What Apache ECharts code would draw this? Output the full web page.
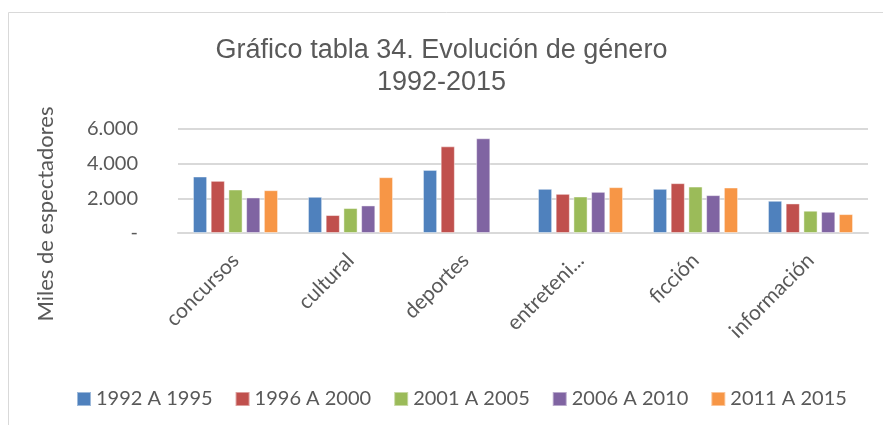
<!DOCTYPE html>
<html>
<head>
<meta charset="utf-8">
<script src="https://cdn.jsdelivr.net/npm/echarts@6/dist/echarts.min.js"></script>
<style>
  html, body { margin: 0; padding: 0; background: #fff; }
  #chart { width: 883px; height: 425px; }
</style>
</head>
<body>
<div id="chart"></div>
<script>
// categorías y series (miles de espectadores)
const generos = ['concursos', 'cultural', 'deportes', 'entretenimiento', 'ficción', 'información'];
const periodos = ['1992 A 1995', '1996 A 2000', '2001 A 2005', '2006 A 2010', '2011 A 2015'];
const valores1992 = [3260, 2090, 3640, 2550, 2550, 1860];
const valores1996 = [3010, 1035, 5000, 2260, 2875, 1705];
const valores2001 = [2510, 1440, null, 2105, 2680, 1285];
const valores2006 = [2050, 1590, 5465, 2375, 2185, 1225];
const valores2011 = [2470, 3220, null, 2645, 2625, 1090];
const colores = ['#4F81BD', '#C0504D', '#9BBB59', '#8064A2', '#F79646'];

const seriesData = [valores1992, valores1996, valores2001, valores2006, valores2011];
const textColor = '#595959';
const font = 'Lato';

const chart = echarts.init(document.getElementById('chart'));

const option = {
  animation: false,
  title: {
    text: 'Gráfico tabla 34. Evolución de género\n1992-2015',
    left: 'center',
    top: 30,
    textStyle: {
      fontFamily: 'Liberation Sans',
      fontWeight: 'normal',
      fontSize: 27,
      lineHeight: 32,
      color: textColor,
    },
  },
  legend: {
    left: 71,
    top: 384,
    itemWidth: 14,
    itemHeight: 14,
    itemGap: 22,
    icon: 'rect',
    data: periodos,
    textStyle: { fontFamily: font, fontSize: 20, color: textColor },
  },
  grid: {
    left: 178,
    right: 15,
    top: 129,
    bottom: 192,
  },
  xAxis: {
    type: 'category',
    data: generos,
    axisTick: { show: false },
    axisLine: { lineStyle: { color: '#d9d9d9', width: 2 } },
    axisLabel: {
      interval: 0,
      rotate: 45,
      margin: 24,
      fontFamily: font,
      fontSize: 21,
      color: textColor,
      formatter: v => (v.length > 12 ? v.slice(0, 9) + '...' : v),
    },
  },
  yAxis: {
    type: 'value',
    min: 0,
    max: 6000,
    interval: 2000,
    axisLine: { show: false },
    axisTick: { show: false },
    splitLine: { lineStyle: { color: '#d9d9d9', width: 2 } },
    axisLabel: {
      margin: 40,
      fontFamily: font,
      fontSize: 20,
      color: textColor,
      formatter: v => (v === 0 ? '-' : String(v / 1000) + '.000'),
    },
  },
  graphic: [
    {
      type: 'rect',
      shape: { x: 8.5, y: 12.5, width: 900, height: 440 },
      style: { fill: 'none', stroke: '#d9d9d9', lineWidth: 1 },
      silent: true,
    },
    {
      type: 'text',
      x: 46,
      y: 214,
      rotation: Math.PI / 2,
      style: {
        text: 'Miles de espectadores',
        fontFamily: font,
        fontSize: 22,
        fill: textColor,
        align: 'center',
        verticalAlign: 'middle',
      },
    },
  ],
  series: periodos.map((nombre, i) => ({
    name: nombre,
    type: 'bar',
    data: seriesData[i],
    barGap: '25%',
    barCategoryGap: '26%',
    itemStyle: {
      color: colores[i],
      borderColor: 'rgba(255,255,255,0.45)',
      borderWidth: 1,
    },
  })),
};

chart.setOption(option);
</script>
</body>
</html>
